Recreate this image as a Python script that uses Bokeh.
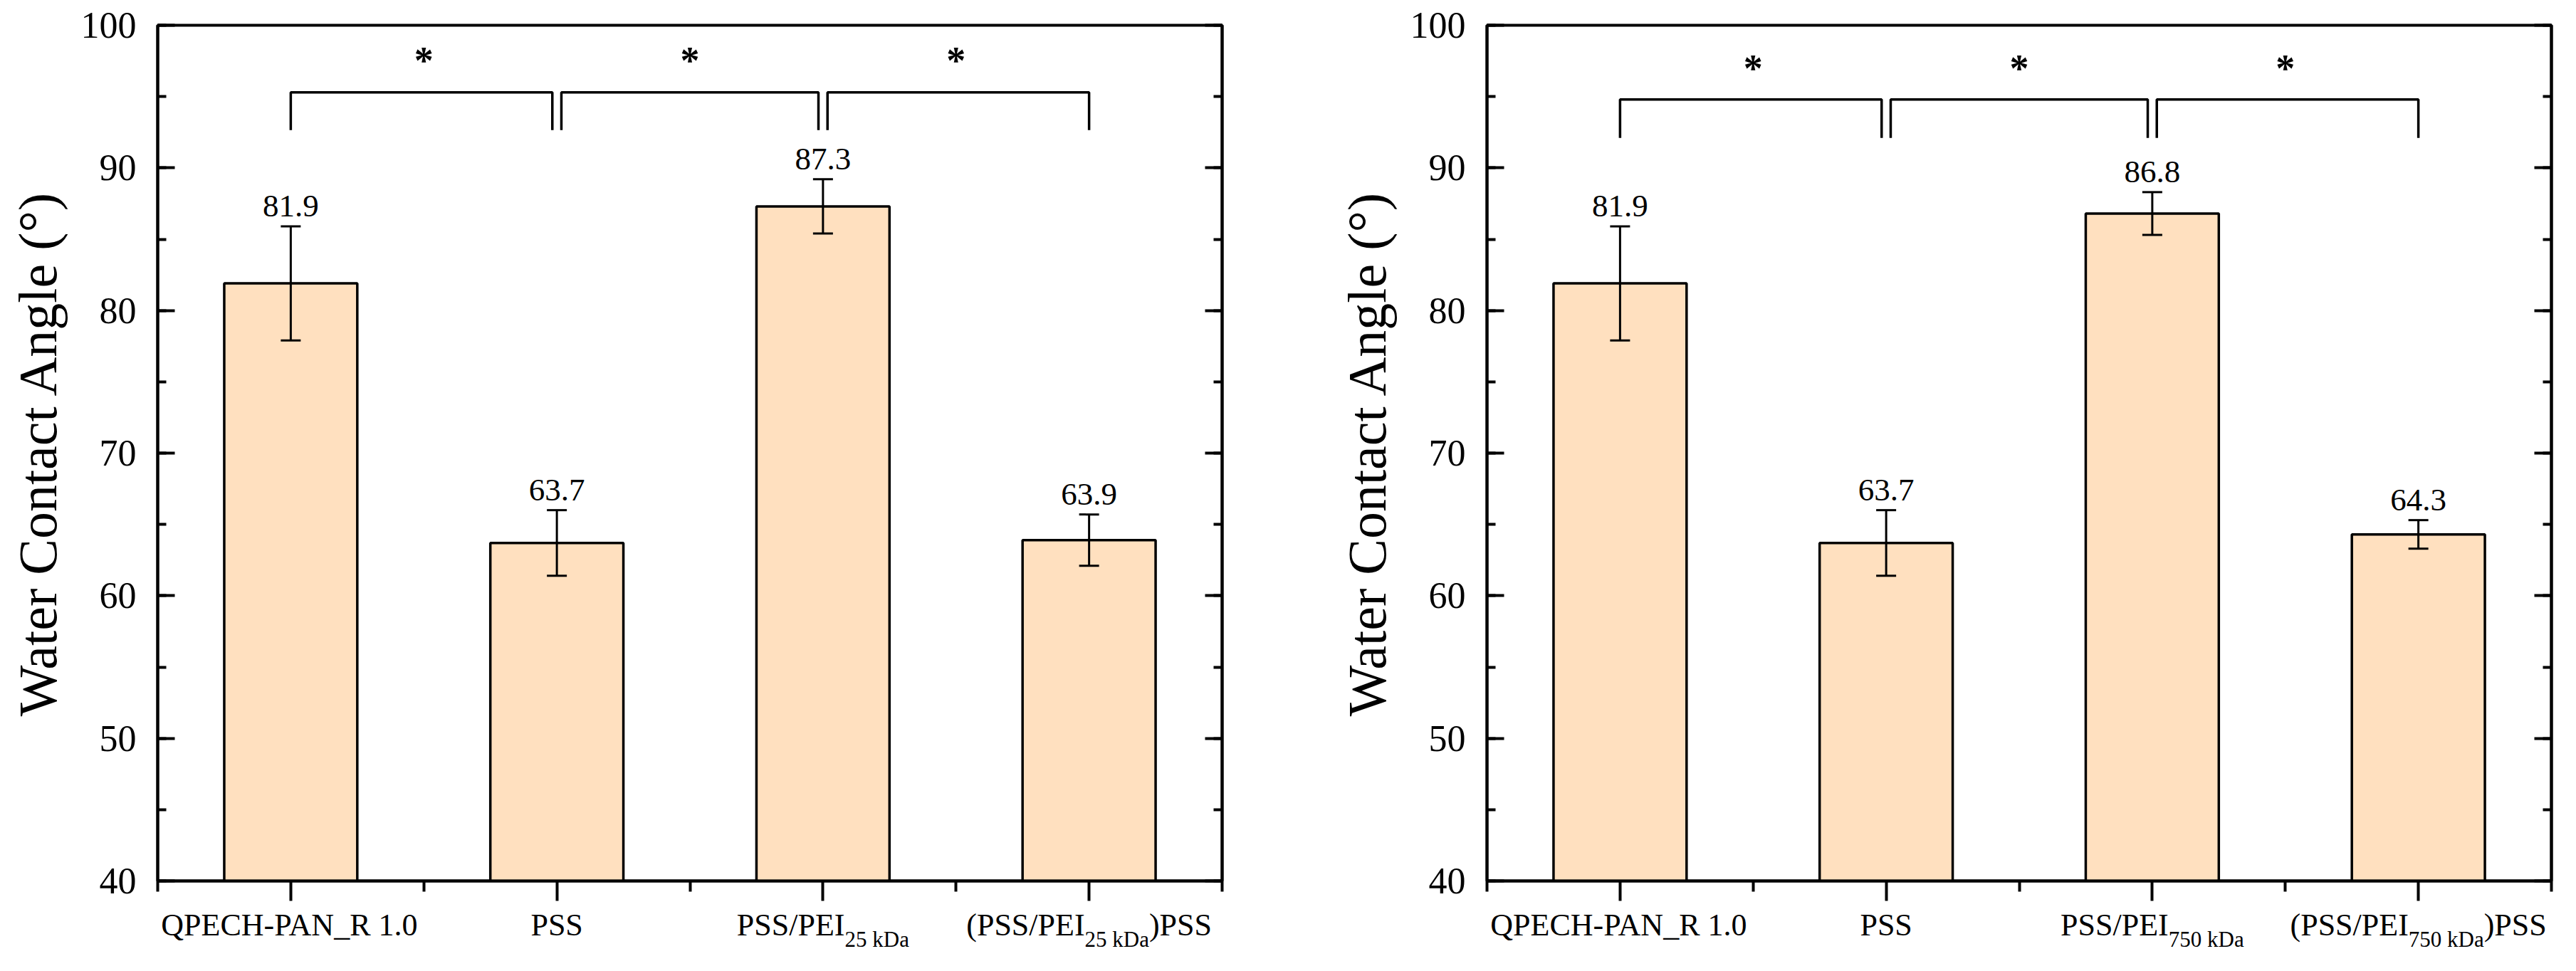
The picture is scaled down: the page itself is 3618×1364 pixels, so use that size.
from bokeh.plotting import figure
from bokeh.layouts import row, column
from bokeh.models import (Range1d, LinearAxis, FixedTicker, SingleIntervalTicker,
                          Whisker, ColumnDataSource, TeeHead, CustomJSTickFormatter)
from bokeh.core.properties import value
from bokeh.embed import file_html
from bokeh.resources import INLINE

# ---------------- data ----------------
# tick labels: list of (text, is_subscript) pieces
left_labels = [
    [("QPECH-PAN_R 1.0", False)],
    [("PSS", False)],
    [("PSS/PEI", False), ("25 kDa", True)],
    [("(PSS/PEI", False), ("25 kDa", True), (")PSS", False)],
]
right_labels = [
    [("QPECH-PAN_R 1.0", False)],
    [("PSS", False)],
    [("PSS/PEI", False), ("750 kDa", True)],
    [("(PSS/PEI", False), ("750 kDa", True), (")PSS", False)],
]
left_values = [81.9, 63.7, 87.3, 63.9]
left_errors = [4.0, 2.3, 1.9, 1.8]
right_values = [81.9, 63.7, 86.8, 64.3]
right_errors = [4.0, 2.3, 1.5, 1.0]
# significance brackets: pairs of category indices, bracket levels and star level
bracket_pairs = [(0, 1), (1, 2), (2, 3)]
left_bracket = {"low": 92.65, "high": 95.3, "star": 97.9}
right_bracket = {"low": 92.1, "high": 94.8, "star": 97.35}
y_title = "Water Contact Angle (°)"

# ---------------- styling ----------------
FONT = "Liberation Serif"
BAR_FILL = "#FFE0BF"
MAIN_FS = 44
SUB_FS = 31
VAL_FS = 45
FRAME_W = 1495
FRAME_H = 1202
Y0, Y1 = 40, 100
PX_PER_Y = FRAME_H / (Y1 - Y0)
BORDER_TOP = 35
BORDER_BOTTOM = 36
LAB_H = 81
# Times / Liberation Serif advance widths (em)
W = {"Q": .722, "P": .556, "E": .611, "C": .667, "H": .722, "-": .333, "A": .722,
     "N": .722, "_": .5, "R": .667, " ": .25, ".": .25, "S": .556, "/": .278,
     "I": .333, "(": .333, ")": .333, "k": .5, "D": .722, "a": .444}


def text_width(s, fs):
    return sum(W.get(ch, 0.5) for ch in s) * fs


def make_panel(labels, values, errors, br, min_left, min_right):
    n = len(values)
    centers = [i + 0.5 for i in range(n)]
    px_per_x = FRAME_W / n
    xr = Range1d(0, n)
    p = figure(frame_width=FRAME_W, frame_height=FRAME_H,
               x_range=xr, y_range=Range1d(Y0, Y1),
               output_backend="svg", toolbar_location=None,
               x_axis_location=None, y_axis_location=None,
               min_border_left=min_left, min_border_right=min_right,
               min_border_top=BORDER_TOP, min_border_bottom=BORDER_BOTTOM,
               background_fill_color="white", border_fill_color="white")
    p.grid.visible = False
    p.outline_line_color = "black"
    p.outline_line_width = 4
    p.outline_line_alpha = 1.0

    yl = LinearAxis(ticker=SingleIntervalTicker(interval=10, num_minor_ticks=2),
                    axis_label=y_title)
    yr = LinearAxis(ticker=SingleIntervalTicker(interval=10, num_minor_ticks=2),
                    formatter=CustomJSTickFormatter(code="return ''"))
    xb = LinearAxis(ticker=FixedTicker(ticks=centers, minor_ticks=list(range(n + 1))),
                    formatter=CustomJSTickFormatter(code="return ''"))
    for ax in (yl, yr):
        ax.major_tick_in = 24
        ax.major_tick_out = 0
        ax.minor_tick_in = 12
        ax.minor_tick_out = 0
    xb.major_tick_in = 0
    xb.major_tick_out = 28
    xb.minor_tick_in = 0
    xb.minor_tick_out = 15
    xb.major_label_standoff = 2
    for ax in (yl, yr, xb):
        ax.axis_line_width = 4
        ax.axis_line_color = "black"
        ax.major_tick_line_width = 4
        ax.minor_tick_line_width = 4
        ax.major_tick_line_color = "black"
        ax.minor_tick_line_color = "black"
        ax.major_label_text_font = FONT
        ax.major_label_text_color = "black"
    yr.major_label_text_font_size = "1px"
    xb.major_label_text_font_size = "1px"
    yl.major_label_text_font_size = "52px"
    yl.major_label_standoff = 30
    yl.axis_label_text_font = FONT
    yl.axis_label_text_font_size = "76px"
    yl.axis_label_text_font_style = "normal"
    yl.axis_label_text_color = "black"
    yl.axis_label_standoff = 16
    p.add_layout(yl, "left")
    p.add_layout(yr, "right")
    p.add_layout(xb, "below")

    src = ColumnDataSource(dict(
        x=centers, top=values,
        upper=[v + e for v, e in zip(values, errors)],
        lower=[v - e for v, e in zip(values, errors)],
        laby=[v + e + (13 + 0.3375 * VAL_FS) / PX_PER_Y for v, e in zip(values, errors)],
        lab=[f"{v:.1f}" for v in values]))
    p.vbar(x="x", top="top", bottom=Y0, width=0.5, source=src,
           fill_color=BAR_FILL, line_color="black", line_width=3.5)
    wh = Whisker(source=src, base="x", upper="upper", lower="lower", dimension="height",
                 line_color="black", line_width=3, level="overlay",
                 upper_head=TeeHead(size=28, line_width=3, line_color="black"),
                 lower_head=TeeHead(size=28, line_width=3, line_color="black"))
    p.add_layout(wh)
    p.text(x="x", y="laby", text="lab", source=src,
           text_align="center", text_baseline="middle",
           text_font=value(FONT), text_font_size=f"{VAL_FS}px", text_color="black")

    # significance brackets
    d = 0.017
    xs, ys, sx = [], [], []
    for a, b in bracket_pairs:
        x0 = centers[a] + (d if a > 0 else 0)
        x1 = centers[b] - (d if b < n - 1 else 0)
        xs.append([x0, x0, x1, x1])
        ys.append([br["low"], br["high"], br["high"], br["low"]])
        sx.append((centers[a] + centers[b]) / 2)
    p.multi_line(xs=xs, ys=ys, line_color="black", line_width=3.5)
    star_mid = br["star"] - 7 / PX_PER_Y
    p.text(x=sx, y=[star_mid] * len(sx), text=["*"] * len(sx),
           text_align="center", text_baseline="middle",
           text_font=value(FONT), text_font_style="bold",
           text_font_size="54px", text_color="black")

    # category tick labels with subscripts, in a strip below the plot
    lab = figure(frame_width=FRAME_W, frame_height=LAB_H,
                 x_range=xr, y_range=Range1d(LAB_H, 0),
                 output_backend="svg", toolbar_location=None,
                 x_axis_location=None, y_axis_location=None,
                 min_border_left=min_left, min_border_right=min_right,
                 min_border_top=0, min_border_bottom=0,
                 background_fill_color="white", border_fill_color="white")
    lab.grid.visible = False
    lab.outline_line_color = None
    # vertical centres of the text boxes, px from top of strip
    y_main, y_sub = 26, 46
    mx, my, mt, sxs, sys_, st = [], [], [], [], [], []
    for c, pieces in zip(centers, labels):
        total = sum(text_width(t, SUB_FS if s else MAIN_FS) for t, s in pieces)
        cur = -total / 2
        for t, s in pieces:
            fs = SUB_FS if s else MAIN_FS
            xpos = c + cur / px_per_x
            if s:
                sxs.append(xpos); sys_.append(y_sub); st.append(t)
            else:
                mx.append(xpos); my.append(y_main); mt.append(t)
            cur += text_width(t, fs)
    lab.text(x=mx, y=my, text=mt, text_align="left", text_baseline="middle",
             text_font=value(FONT), text_font_size=f"{MAIN_FS}px", text_color="black")
    lab.text(x=sxs, y=sys_, text=st, text_align="left", text_baseline="middle",
             text_font=value(FONT), text_font_size=f"{SUB_FS}px", text_color="black")
    return column(p, lab, spacing=0)


c1 = make_panel(left_labels, left_values, left_errors, left_bracket, 221, 126)
c2 = make_panel(right_labels, right_values, right_errors, right_bracket, 246, 19)
layout = row(c1, c2, spacing=0)
open("out.html", "w").write(file_html(layout, INLINE))
